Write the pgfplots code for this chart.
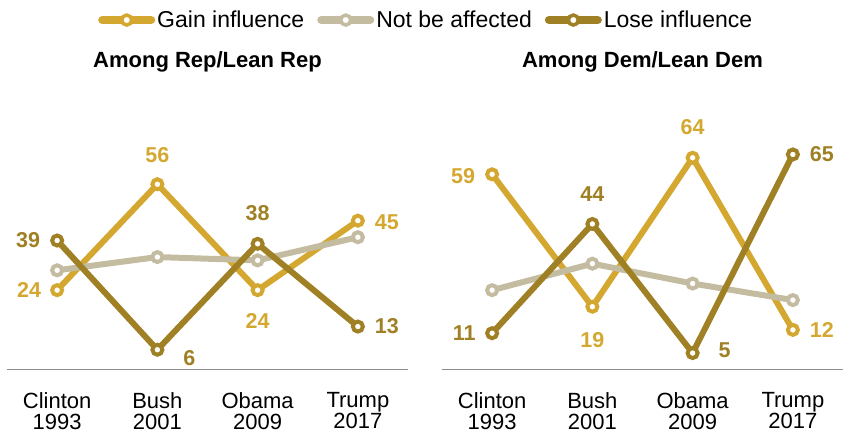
\documentclass[border=0pt]{standalone}
\usepackage{pgfplots}
\pgfplotsset{compat=1.18}
\usepackage{fontspec}
\setmainfont{Liberation Sans}
\definecolor{gainc}{HTML}{D4A830}
\definecolor{notc}{HTML}{C4BCA0}
\definecolor{losec}{HTML}{A08024}

\pgfplotstableread{
x y dx dy
0 24 -28 0
1 56 0 29
2 24 0 -31
3 45 29 -2
}\repgain
\pgfplotstableread{
x y
0 30
1 34
2 33
3 40
}\repnot
\pgfplotstableread{
x y dx dy
0 39 -29 0
1 6 32 -8
2 38 0 31
3 13 29 0
}\replose
\pgfplotstableread{
x y dx dy
0 59 -29 -2
1 19 0 -33
2 64 0 31
3 12 29 0
}\demgain
\pgfplotstableread{
x y
0 24
1 32
2 26
3 21
}\demnot
\pgfplotstableread{
x y dx dy
0 11 -28 0
1 44 0 30
2 5 32 3
3 65 29 0
}\demlose

\pgfplotsset{
  panel/.style={
    scale only axis, width=401pt, height=331pt,
    xmin=-0.5, xmax=3.5, ymin=0, ymax=100,
    axis x line=bottom, axis y line=none,
    x axis line style={-, draw=black!45, line width=1.2pt},
    xtick={0,1,2,3},
    xticklabels={{Clinton\\1993},{Bush\\2001},{Obama\\2009},{Trump\\2017}},
    major tick length=0pt,
    xticklabel style={align=center, font=\fontsize{22}{21.5}\selectfont, yshift=-19pt, text=black},
    ytick=\empty,
    clip=false,
    title style={at={(0.5,0.913)}, anchor=center, font=\bfseries\fontsize{22}{24}\selectfont},
  },
  labeled/.style={
    nodes near coords={\pgfmathprintnumber[assume math mode=true]{\pgfplotspointmeta}},
    point meta=y,
    visualization depends on={\thisrow{dx}\as\lbldx},
    visualization depends on={\thisrow{dy}\as\lbldy},
    every node near coord/.append style={anchor=center, xshift=\lbldx*1pt, yshift=\lbldy*1pt,
      font=\bfseries\fontsize{21.5}{24}\selectfont, text=#1},
  },
  legend image code/.code={
    \draw[#1, line width=8pt, line cap=round, mark=none] (4pt,0pt) -- (53pt,0pt);
    \draw[#1, fill=white, line width=3.5pt] (28.5pt,0pt) circle (5pt);
  },
}
\tikzset{myser/.style={draw=#1, color=#1, line width=6pt, mark=*, mark size=5pt,
    mark options={solid, fill=white, line width=4pt, draw=#1}}}

\begin{document}
\begin{tikzpicture}
\useasboundingbox (0,0) rectangle (851pt,439pt);
\begin{axis}[panel, at={(7pt,69.4pt)}, anchor=south west,
  title={Among Rep/Lean Rep},
  legend columns=3,
  legend cell align=left,
  legend style={at={(0.227,1.056)}, anchor=west, draw=none, fill=none,
    font=\fontsize{23}{25}\selectfont,
    /tikz/every even column/.append style={column sep=11pt},
    inner sep=0pt},
]
\addplot[myser=gainc, labeled=gainc] table[x=x,y=y] {\repgain};
\addlegendentry{Gain influence}
\addplot[myser=notc] table[x=x,y=y] {\repnot};
\addlegendentry{Not be affected}
\addplot[myser=losec, labeled=losec] table[x=x,y=y] {\replose};
\addlegendentry{Lose influence}
\end{axis}
\begin{axis}[panel, at={(442pt,69.4pt)}, anchor=south west,
  title={Among Dem/Lean Dem},
]
\addplot[myser=gainc, labeled=gainc] table[x=x,y=y] {\demgain};
\addplot[myser=notc] table[x=x,y=y] {\demnot};
\addplot[myser=losec, labeled=losec] table[x=x,y=y] {\demlose};
\end{axis}
\end{tikzpicture}
\end{document}
